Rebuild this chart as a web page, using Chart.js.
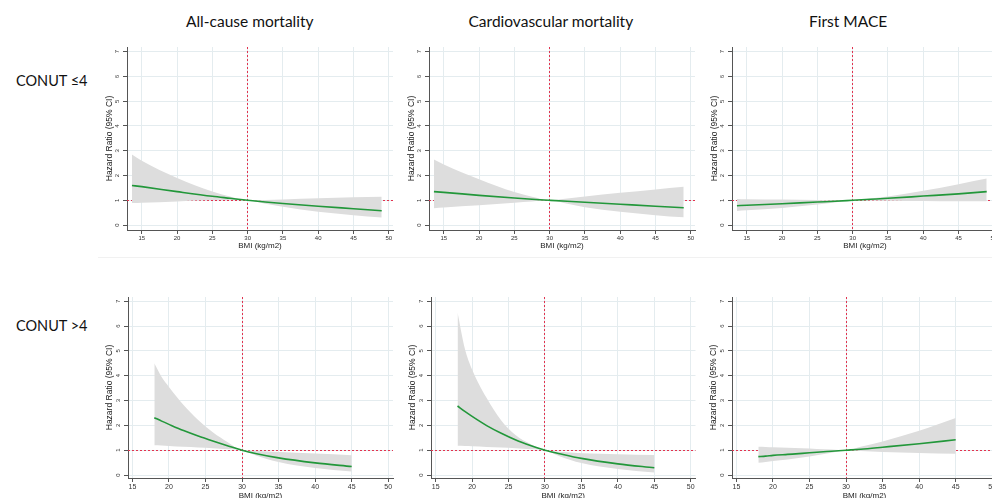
<!DOCTYPE html>
<html>
<head>
<meta charset="utf-8">
<script src="https://cdn.jsdelivr.net/npm/chart.js@4.4.1/dist/chart.umd.min.js"></script>
<style>
html,body{margin:0;padding:0;background:#fff;}
body{position:relative;width:992px;height:498px;overflow:hidden;font-family:Lato,"Open Sans",sans-serif;}
canvas{position:absolute;}
.lbl{position:absolute;white-space:nowrap;color:#111;font-family:Lato,"Open Sans",sans-serif;line-height:1;}
.sep{position:absolute;background:#f1f1f1;}
</style>
</head>
<body>
<div class="sep" style="left:98px;top:257px;width:894px;height:1px;"></div>
<script>
// ---------- data ----------
const colTitles = ['All-cause mortality', 'Cardiovascular mortality', 'First MACE'];
const rowLabels = ['CONUT \u22644', 'CONUT >4'];
const xTitle = 'BMI (kg/m2)';
const yTitle = 'Hazard Ratio (95% CI)';
const xTicks = [15, 20, 25, 30, 35, 40, 45, 50];
const yTicks = [0, 1, 2, 3, 4, 5, 6, 7];
const refBMI = 30;
const refHR = 1;

// CONUT <= 4 (BMI grid)
const bmiLow = [13.6, 15, 20, 25, 27.5, 30, 32.5, 35, 40, 45, 49];
const hrAllLow   = [1.60, 1.55, 1.35, 1.16, 1.08, 1.00, 0.93, 0.87, 0.76, 0.66, 0.58];
const hiAllLow   = [2.85, 2.60, 1.90, 1.35, 1.15, 1.00, 1.01, 1.03, 1.08, 1.12, 1.14];
const loAllLow   = [0.89, 0.90, 0.95, 1.01, 1.01, 1.00, 0.86, 0.74, 0.54, 0.40, 0.30];
const hrCvLow    = [1.35, 1.32, 1.20, 1.09, 1.04, 1.00, 0.96, 0.92, 0.84, 0.76, 0.70];
const hiCvLow    = [2.65, 2.45, 1.85, 1.33, 1.14, 1.00, 1.07, 1.15, 1.30, 1.44, 1.55];
const loCvLow    = [0.68, 0.71, 0.80, 0.90, 0.95, 1.00, 0.86, 0.72, 0.54, 0.40, 0.31];
const hrMaceLow  = [0.78, 0.80, 0.86, 0.93, 0.96, 1.00, 1.04, 1.08, 1.17, 1.26, 1.35];
const hiMaceLow  = [1.05, 1.04, 1.03, 1.01, 1.00, 1.00, 1.07, 1.15, 1.38, 1.65, 1.88];
const loMaceLow  = [0.57, 0.60, 0.69, 0.83, 0.91, 1.00, 0.99, 0.98, 0.97, 0.96, 0.96];

// CONUT > 4 (BMI grid)
const bmiHigh = [18, 19, 20, 22, 24, 26, 28, 30, 32, 35, 40, 45];
const hrAllHigh  = [2.31, 2.17, 2.04, 1.79, 1.57, 1.37, 1.18, 1.00, 0.86, 0.69, 0.49, 0.34];
const hiAllHigh  = [4.50, 3.95, 3.55, 2.82, 2.22, 1.72, 1.33, 1.00, 0.97, 0.93, 0.87, 0.80];
const loAllHigh  = [1.20, 1.19, 1.17, 1.14, 1.11, 1.08, 1.04, 1.00, 0.78, 0.52, 0.28, 0.14];
const hrCvHigh   = [2.78, 2.56, 2.36, 1.99, 1.68, 1.41, 1.19, 1.00, 0.86, 0.67, 0.45, 0.29];
const hiCvHigh   = [6.55, 5.10, 4.25, 3.10, 2.20, 1.60, 1.25, 1.00, 0.94, 0.88, 0.84, 0.81];
const loCvHigh   = [1.18, 1.17, 1.16, 1.13, 1.11, 1.08, 1.04, 1.00, 0.76, 0.48, 0.24, 0.10];
const hrMaceHigh = [0.74, 0.76, 0.79, 0.83, 0.87, 0.92, 0.96, 1.00, 1.04, 1.12, 1.26, 1.42];
const hiMaceHigh = [1.14, 1.13, 1.12, 1.10, 1.08, 1.05, 1.03, 1.00, 1.14, 1.35, 1.78, 2.30];
const loMaceHigh = [0.49, 0.52, 0.56, 0.63, 0.71, 0.80, 0.90, 1.00, 0.97, 0.93, 0.89, 0.86];

// ---------- layout / styling ----------
const GREEN = '#22973a';
const BAND = '#dddddd';
const REF = '#e2334f';
const GRID = '#e4ecef';
const AXIS = '#555555';
const TXT = '#333333';

const panels = [
  {bmi: bmiLow, hr: hrAllLow, hi: hiAllLow, lo: loAllLow,
   cx: 98, cy: 40, w: 302, h: 211, pl: 127, pt: 47, pr: 393, pb: 230, xmin: 12.9, xmax: 50.6, ymin: -0.2, ymax: 7.19, tick: 6, xt: 8},
  {bmi: bmiLow, hr: hrCvLow, hi: hiCvLow, lo: loCvLow,
   cx: 400, cy: 40, w: 300, h: 211, pl: 429, pt: 47, pr: 695, pb: 230, xmin: 12.9, xmax: 50.6, ymin: -0.2, ymax: 7.19, tick: 6, xt: 8},
  {bmi: bmiLow, hr: hrMaceLow, hi: hiMaceLow, lo: loMaceLow,
   cx: 703, cy: 40, w: 300, h: 211, pl: 732, pt: 47, pr: 998, pb: 230, xmin: 12.9, xmax: 50.6, ymin: -0.2, ymax: 7.19, tick: 6, xt: 8},
  {bmi: bmiHigh, hr: hrAllHigh, hi: hiAllHigh, lo: loAllHigh,
   cx: 98, cy: 290, w: 302, h: 211, pl: 128, pt: 297, pr: 393, pb: 478, xmin: 14.4, xmax: 50.65, ymin: -0.12, ymax: 7.17, tick: 7, xt: 8},
  {bmi: bmiHigh, hr: hrCvHigh, hi: hiCvHigh, lo: loCvHigh,
   cx: 401, cy: 290, w: 300, h: 211, pl: 431, pt: 297, pr: 695.5, pb: 478, xmin: 14.36, xmax: 50.65, ymin: -0.12, ymax: 7.17, tick: 7, xt: 8},
  {bmi: bmiHigh, hr: hrMaceHigh, hi: hiMaceHigh, lo: loMaceHigh,
   cx: 702, cy: 290, w: 300, h: 211, pl: 732, pt: 297, pr: 997, pb: 478, xmin: 14.4, xmax: 50.65, ymin: -0.12, ymax: 7.17, tick: 7, xt: 8}
];

// reference lines drawn behind the confidence band, positioned through the chart scales
const refLines = {
  id: 'refLines',
  beforeDatasetsDraw(chart) {
    const {ctx, chartArea: a, scales: {x, y}} = chart;
    const px = Math.round(x.getPixelForValue(refBMI) - 0.5) + 0.5;
    const py = Math.round(y.getPixelForValue(refHR) - 0.5) + 0.5;
    ctx.save();
    ctx.strokeStyle = REF;
    ctx.lineWidth = 1;
    ctx.setLineDash([2, 2]);
    ctx.beginPath();
    ctx.moveTo(px, a.top); ctx.lineTo(px, a.bottom);
    ctx.moveTo(a.left, py); ctx.lineTo(a.right, py);
    ctx.stroke();
    ctx.restore();
  }
};

const pts = (xs, ys) => xs.map((x, i) => ({x: x, y: ys[i]}));

panels.forEach(p => {
  const c = document.createElement('canvas');
  c.width = p.w; c.height = p.h;
  c.style.left = p.cx + 'px'; c.style.top = p.cy + 'px';
  c.style.width = p.w + 'px'; c.style.height = p.h + 'px';
  document.body.appendChild(c);
  new Chart(c, {
    type: 'line',
    data: {
      datasets: [
        {data: pts(p.bmi, p.hi), order: 2, borderWidth: 0, borderColor: 'rgba(0,0,0,0)', pointRadius: 0,
         fill: '+1', backgroundColor: BAND, cubicInterpolationMode: 'monotone'},
        {data: pts(p.bmi, p.lo), order: 1, borderWidth: 0, borderColor: 'rgba(0,0,0,0)', pointRadius: 0,
         fill: false, cubicInterpolationMode: 'monotone'},
        {data: pts(p.bmi, p.hr), order: 0, borderWidth: 1.6, borderColor: GREEN, pointRadius: 0,
         fill: false, cubicInterpolationMode: 'monotone'}
      ]
    },
    options: {
      responsive: false, animation: false, events: [],
      devicePixelRatio: 1,
      layout: {padding: {left: 0, top: p.pt - p.cy, right: p.cx + p.w - p.pr, bottom: 0}},
      plugins: {legend: {display: false}, tooltip: {enabled: false}},
      scales: {
        x: {
          type: 'linear', min: p.xmin, max: p.xmax,
          afterBuildTicks: s => { s.ticks = xTicks.map(v => ({value: v})); },
          afterFit: s => { s.height = p.cy + p.h - p.pb; s.paddingLeft = 0; s.paddingRight = 0; },
          grid: {color: GRID, lineWidth: 1, tickLength: 4, tickColor: AXIS, drawTicks: true},
          border: {display: true, color: AXIS, width: 1},
          ticks: {font: {family: 'Liberation Sans', size: p.tick}, color: TXT, padding: 1,
                  maxRotation: 0, minRotation: 0, autoSkip: false},
          title: {display: true, text: xTitle, font: {family: 'Liberation Sans', size: p.xt},
                  color: '#222', padding: {top: 0, bottom: 0}}
        },
        y: {
          type: 'linear', min: p.ymin, max: p.ymax,
          afterBuildTicks: s => { s.ticks = yTicks.map(v => ({value: v})); },
          afterFit: s => { s.width = p.pl - p.cx; s.paddingTop = 0; s.paddingBottom = 0; },
          grid: {color: GRID, lineWidth: 1, tickLength: 4, tickColor: AXIS, drawTicks: true},
          border: {display: true, color: AXIS, width: 1},
          ticks: {font: {family: 'Liberation Sans', size: 6}, color: TXT, padding: 4,
                  minRotation: 90, maxRotation: 90, crossAlign: 'center', autoSkip: false},
          title: {display: true, text: yTitle, font: {family: 'Liberation Sans', size: 8.5},
                  color: '#222', padding: {top: 7, bottom: 0}}
        }
      }
    },
    plugins: [refLines]
  });
});

// column titles and row labels as text
const colCenters = [250, 551, 848];
colTitles.forEach((t, i) => {
  const d = document.createElement('div');
  d.className = 'lbl'; d.textContent = t;
  d.style.fontSize = '15.5px';
  d.style.top = '14px';
  document.body.appendChild(d);
  d.style.left = (colCenters[i] - d.offsetWidth / 2) + 'px';
});
const rowTops = [74, 319];
rowLabels.forEach((t, i) => {
  const d = document.createElement('div');
  d.className = 'lbl'; d.textContent = t;
  d.style.fontSize = '14.5px';
  d.style.left = '16px'; d.style.top = rowTops[i] + 'px';
  document.body.appendChild(d);
});
</script>
</body>
</html>
